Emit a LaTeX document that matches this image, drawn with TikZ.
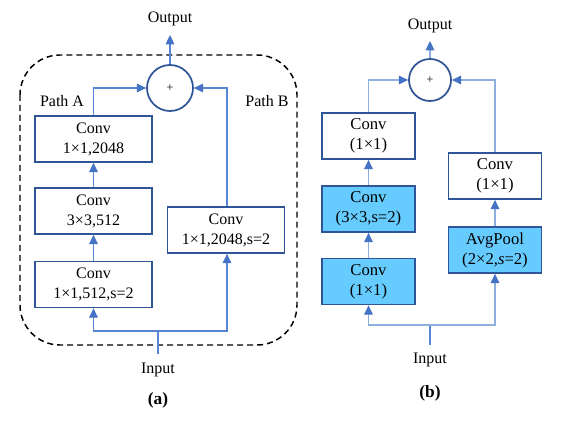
\documentclass[tikz,border=0pt]{standalone}
\usepackage{fontspec}
\setmainfont{Liberation Serif}
\usetikzlibrary{arrows.meta}
\definecolor{bordc}{HTML}{2F5597}
\definecolor{lineA}{HTML}{5585D3}
\definecolor{lineB}{HTML}{8EAEE0}
\definecolor{tipc}{HTML}{4472C4}
\definecolor{fillc}{HTML}{66CCFF}
\tikzset{
  boxa/.style={draw=bordc, line width=1.3pt, fill=white, minimum width=87.75pt, minimum height=34.5pt, align=center, inner sep=0pt, font=\fontsize{12}{15}\selectfont},
  boxb/.style={draw=bordc, line width=1.3pt, fill=white, minimum width=69.75pt, minimum height=34.5pt, align=center, inner sep=0pt, font=\fontsize{12.5}{15}\selectfont},
  filled/.style={fill=fillc},
  sumnode/.style={circle, draw=bordc, line width=1.3pt, inner sep=0pt, font=\fontsize{9}{9}\selectfont},
  lbl/.style={font=\fontsize{12}{14}\selectfont, inner sep=0pt},
  conna/.style={draw=lineA, line width=0.8pt, -{Triangle[length=7pt,width=6.5pt,fill=tipc,color=tipc]}},
  connb/.style={draw=lineB, line width=0.8pt, -{Triangle[length=7pt,width=6.5pt,fill=tipc,color=tipc]}},
  plaina/.style={draw=lineA, line width=0.8pt},
  plainb/.style={draw=lineB, line width=0.8pt},
}
\begin{document}
\begin{tikzpicture}[x=0.75pt,y=-0.75pt]
\useasboundingbox (0,0) rectangle (584,423);
% ---------- (a) ----------
\draw[black, line width=1.1pt, dash pattern=on 4.5pt off 3pt, rounded corners=30pt] (20,55) rectangle (297,345);
\node[boxa] (A1) at (93.5,139) {Conv\\1×1,2048};
\node[boxa] (A2) at (93.5,211) {Conv\\3×3,512};
\node[boxa] (A3) at (93.5,284.5) {Conv\\1×1,512,s=2};
\node[boxa] (B1) at (226,230) {Conv\\1×1,2048,s=2};
\node[sumnode, minimum size=34.5pt] (SA) at (170,88) {+};
\node[lbl] (outA) at (170,19) {Output};
\node[lbl] (inA) at (158,370) {Input};
\node[lbl] (pA) at (62,101) {Path A};
\node[lbl] (pB) at (267,101) {Path B};
\node[font=\fontsize{13}{14}\selectfont\bfseries, inner sep=0pt] (capA) at (158,400) {(a)};
\coordinate (outAtip) at (170,35);
\coordinate (inAtop) at (158,354);
\coordinate (jA) at (158,331);
\draw[conna] (SA.north) -- (outAtip);
\draw[conna] (A1.north) |- (SA.west);
\draw[conna] (B1.north -| 227,0) |- (SA.east);
\draw[conna] (A2.north) -- (A1.south);
\draw[conna] (A3.north) -- (A2.south);
\draw[plaina] (inAtop) -- (jA);
\draw[conna] (jA) -| (A3.south);
\draw[conna] (jA) -| (227,0 |- B1.south);
% ---------- (b) ----------
\node[boxb] (C1) at (368.5,136) {Conv\\(1×1)};
\node[boxb, filled] (C2) at (368.5,209) {Conv\\(3×3,s=2)};
\node[boxb, filled] (C3) at (368.5,281.5) {Conv\\(1×1)};
\node[boxb] (D1) at (495,176) {Conv\\(1×1)};
\node[boxb, filled] (D2) at (495,250) {AvgPool\\(2×2,\textit{s}=2)};
\node[sumnode, minimum size=31.5pt] (SB) at (430,80) {+};
\node[lbl] (outB) at (430,26) {Output};
\node[lbl] (inB) at (430,360) {Input};
\node[font=\fontsize{13}{14}\selectfont\bfseries, inner sep=0pt] (capB) at (430,393) {(b)};
\coordinate (outBtip) at (430,41);
\coordinate (inBtop) at (430,345);
\coordinate (jB) at (430,325);
\draw[connb] (SB.north) -- (outBtip);
\draw[connb] (C1.north) |- (SB.west);
\draw[connb] (D1.north) |- (SB.east);
\draw[connb] (C2.north) -- (C1.south);
\draw[connb] (C3.north) -- (C2.south);
\draw[connb] (D2.north) -- (D1.south);
\draw[plaina] (inBtop) -- (jB);
\draw[connb] (jB) -| (C3.south);
\draw[connb] (jB) -| (D2.south);
\end{tikzpicture}
\end{document}
